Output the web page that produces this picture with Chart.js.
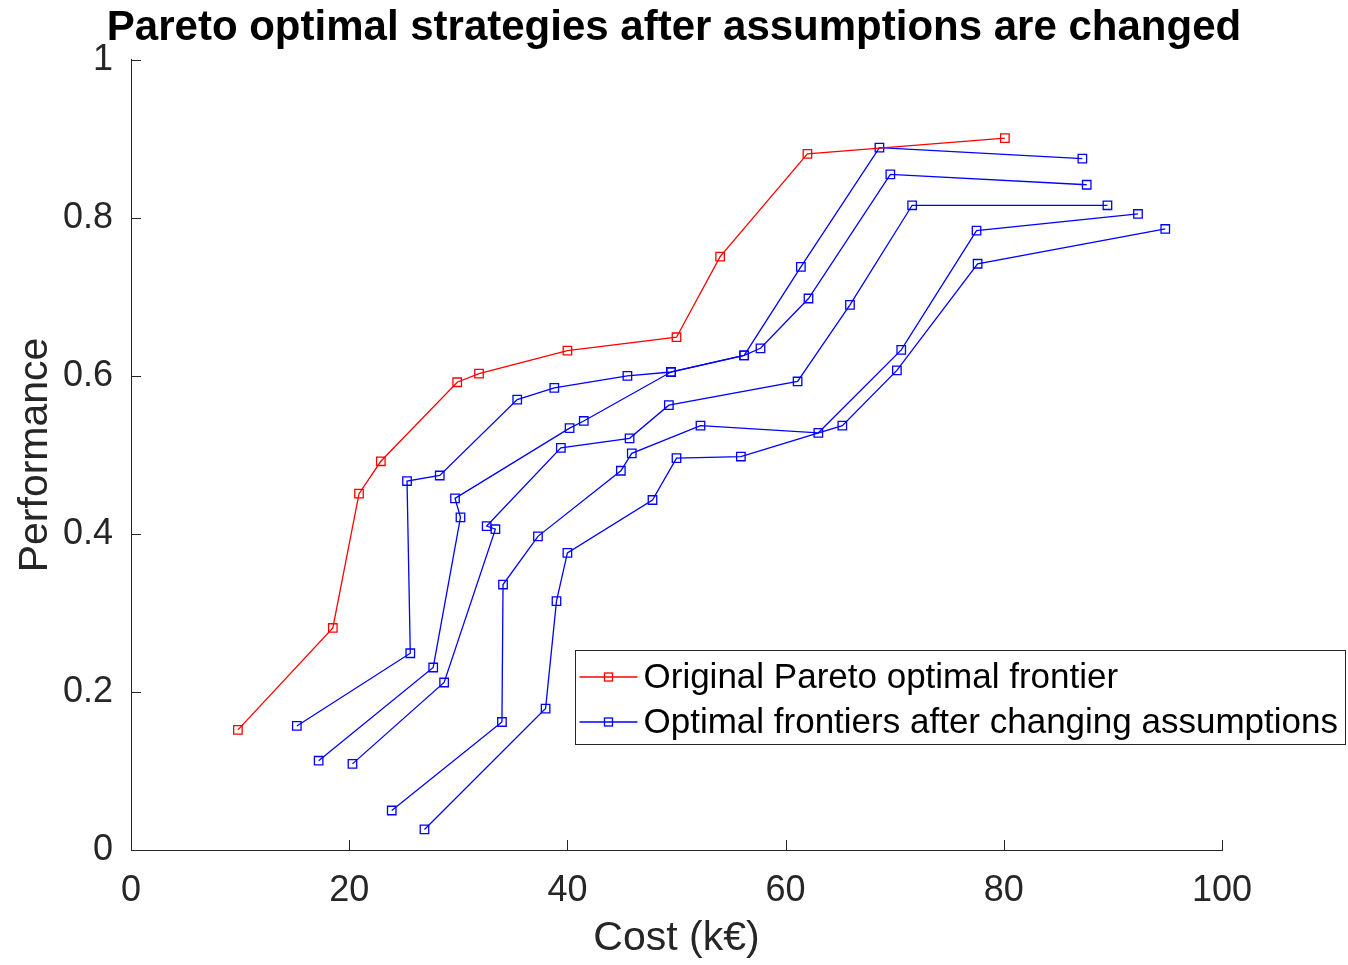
<!DOCTYPE html>
<html>
<head>
<meta charset="utf-8">
<script src="https://cdn.jsdelivr.net/npm/chart.js@4.4.1/dist/chart.umd.min.js"></script>
<style>
  html, body { margin: 0; padding: 0; background: #fff; }
  #wrap { width: 1348px; height: 965px; }
</style>
</head>
<body>
<div id="wrap"><canvas id="chart"></canvas></div>
<script>
// Original frontier (red)
var origCost = [9.8, 18.5, 20.9, 22.9, 29.9, 31.9, 40.0, 50.0, 54.0, 62.0, 80.1];
var origPerf = [0.152, 0.281, 0.451, 0.492, 0.592, 0.603, 0.632, 0.649, 0.751, 0.881, 0.901];

// Frontiers after changing assumptions (blue)
var altCost1 = [15.2, 25.6, 25.3, 28.3, 35.4, 38.8, 45.5, 49.5, 56.2, 61.4, 68.6, 87.2];
var altPerf1 = [0.157, 0.249, 0.467, 0.474, 0.570, 0.585, 0.600, 0.605, 0.626, 0.738, 0.889, 0.875];
var altCost2 = [17.2, 27.7, 30.2, 29.7, 40.2, 41.5, 49.5, 56.2, 57.7, 62.1, 69.6, 87.6];
var altPerf2 = [0.113, 0.231, 0.421, 0.445, 0.534, 0.543, 0.605, 0.626, 0.635, 0.698, 0.855, 0.842];
var altCost3 = [20.3, 28.7, 33.4, 32.6, 39.4, 45.7, 49.3, 61.1, 65.9, 71.6, 89.5];
var altPerf3 = [0.109, 0.212, 0.406, 0.410, 0.509, 0.521, 0.563, 0.593, 0.690, 0.816, 0.816];
var altCost4 = [23.9, 34.0, 34.1, 37.3, 44.9, 45.9, 52.2, 63.0, 70.6, 77.5, 92.3];
var altPerf4 = [0.050, 0.162, 0.336, 0.397, 0.480, 0.502, 0.537, 0.528, 0.633, 0.784, 0.805];
var altCost5 = [26.9, 38.0, 39.0, 40.0, 47.8, 50.0, 55.9, 65.2, 70.2, 77.6, 94.8];
var altPerf5 = [0.026, 0.179, 0.315, 0.376, 0.443, 0.496, 0.498, 0.537, 0.607, 0.742, 0.786];

var xTicks = [0, 20, 40, 60, 80, 100];
var yTicks = [0, 0.2, 0.4, 0.6, 0.8, 1];

var FONT = "'Liberation Sans', Arial, Helvetica, sans-serif";
var AXIS = '#262626';

function pts(xs, ys) {
    return xs.map(function(x, i) { return { x: x, y: ys[i] }; });
}

function series(label, xs, ys, color) {
    return {
        label: label,
        data: pts(xs, ys),
        borderColor: color,
        backgroundColor: 'rgba(0,0,0,0)',
        borderWidth: 1.3,
        pointStyle: 'rect',
        pointRadius: 6,
        pointBorderWidth: 1.3,
        pointBorderColor: color,
        pointBackgroundColor: 'rgba(0,0,0,0)',
        showLine: true,
        tension: 0
    };
}

var blueLabel = 'Optimal frontiers after changing assumptions';
var datasets = [
    series('Original Pareto optimal frontier', origCost, origPerf, '#ff0000'),
    series(blueLabel, altCost1, altPerf1, '#0000ff'),
    series(blueLabel, altCost2, altPerf2, '#0000ff'),
    series(blueLabel, altCost3, altPerf3, '#0000ff'),
    series(blueLabel, altCost4, altPerf4, '#0000ff'),
    series(blueLabel, altCost5, altPerf5, '#0000ff')
];

// MATLAB style inward tick marks
var inwardTicks = {
    id: 'inwardTicks',
    afterDatasetsDraw: function(chart) {
        var ctx = chart.ctx, a = chart.chartArea;
        var xs = chart.scales.x, ys = chart.scales.y;
        ctx.save();
        ctx.strokeStyle = AXIS;
        ctx.lineWidth = 1;
        xTicks.forEach(function(v) {
            var px = Math.round(xs.getPixelForValue(v)) + 0.5;
            ctx.beginPath();
            ctx.moveTo(px, a.bottom);
            ctx.lineTo(px, a.bottom - 10);
            ctx.stroke();
        });
        yTicks.forEach(function(v) {
            var py = Math.round(ys.getPixelForValue(v)) + 0.5;
            ctx.beginPath();
            ctx.moveTo(a.left, py);
            ctx.lineTo(a.left + 10, py);
            ctx.stroke();
        });
        ctx.restore();
    }
};

// legend box inside the axes, like MATLAB 'southeast'
var boxLegend = {
    id: 'boxLegend',
    afterDraw: function(chart) {
        var ctx = chart.ctx;
        var entries = [datasets[0], datasets[1]];
        ctx.save();
        ctx.font = '35px ' + FONT;
        var maxW = 0;
        entries.forEach(function(d) { maxW = Math.max(maxW, ctx.measureText(d.label).width); });
        var right = chart.width - 3, top = 650, rowH = 45;
        var w = 69 + maxW + 7, h = 94;
        var left = right - w;
        ctx.fillStyle = '#fff';
        ctx.fillRect(left, top, w, h);
        ctx.strokeStyle = AXIS;
        ctx.lineWidth = 1;
        ctx.strokeRect(Math.round(left) + 0.5, top + 0.5, Math.round(w), h);
        entries.forEach(function(d, i) {
            var cy = top + 27 + i * rowH;
            ctx.strokeStyle = d.borderColor;
            ctx.lineWidth = 1.3;
            ctx.beginPath();
            ctx.moveTo(left + 5, cy);
            ctx.lineTo(left + 63, cy);
            ctx.stroke();
            ctx.strokeRect(left + 30, cy - 4, 8, 8);
            ctx.fillStyle = '#000';
            ctx.textBaseline = 'middle';
            ctx.textAlign = 'left';
            ctx.fillText(d.label, left + 69, cy + 1);
        });
        ctx.restore();
    }
};

new Chart(document.getElementById('chart').getContext('2d'), {
    type: 'scatter',
    data: { datasets: datasets },
    options: {
        responsive: true,
        maintainAspectRatio: false,
        animation: false,
        layout: { padding: 0 },
        plugins: {
            legend: { display: false },
            tooltip: { enabled: false },
            title: {
                display: true,
                text: 'Pareto optimal strategies after assumptions are changed',
                color: '#000',
                font: { family: FONT, size: 42, weight: 'bold' },
                padding: { top: 3, bottom: 6.5 }
            }
        },
        scales: {
            x: {
                type: 'linear',
                min: 0, max: 100,
                afterBuildTicks: function(s) { s.ticks = xTicks.map(function(v) { return { value: v }; }); },
                afterFit: function(s) { s.height = 115; },
                grid: { display: false },
                border: { display: true, color: AXIS, width: 1 },
                ticks: { color: AXIS, font: { family: FONT, size: 36 }, padding: 11, maxRotation: 0 },
                title: { display: true, text: 'Cost (k€)', color: AXIS, font: { family: FONT, size: 41 }, padding: { top: 2, bottom: 2 } }
            },
            y: {
                type: 'linear',
                min: 0, max: 1,
                afterBuildTicks: function(s) { s.ticks = yTicks.map(function(v) { return { value: v }; }); },
                afterFit: function(s) { s.width = 131; },
                grid: { display: false },
                border: { display: true, color: AXIS, width: 1 },
                ticks: {
                    color: AXIS, font: { family: FONT, size: 36 }, padding: 10,
                    callback: function(v) { return String(Math.round(v * 10) / 10); }
                },
                title: { display: true, text: 'Performance', color: AXIS, font: { family: FONT, size: 41 }, padding: { top: 11, bottom: 11 } }
            },
            // empty right-hand margin so the title stays centred on the figure
            yRight: {
                type: 'linear',
                position: 'right',
                min: 0, max: 1,
                afterFit: function(s) { s.width = 126; },
                grid: { display: false },
                border: { display: false },
                ticks: { display: false }
            }
        }
    },
    plugins: [inwardTicks, boxLegend]
});
</script>
</body>
</html>
